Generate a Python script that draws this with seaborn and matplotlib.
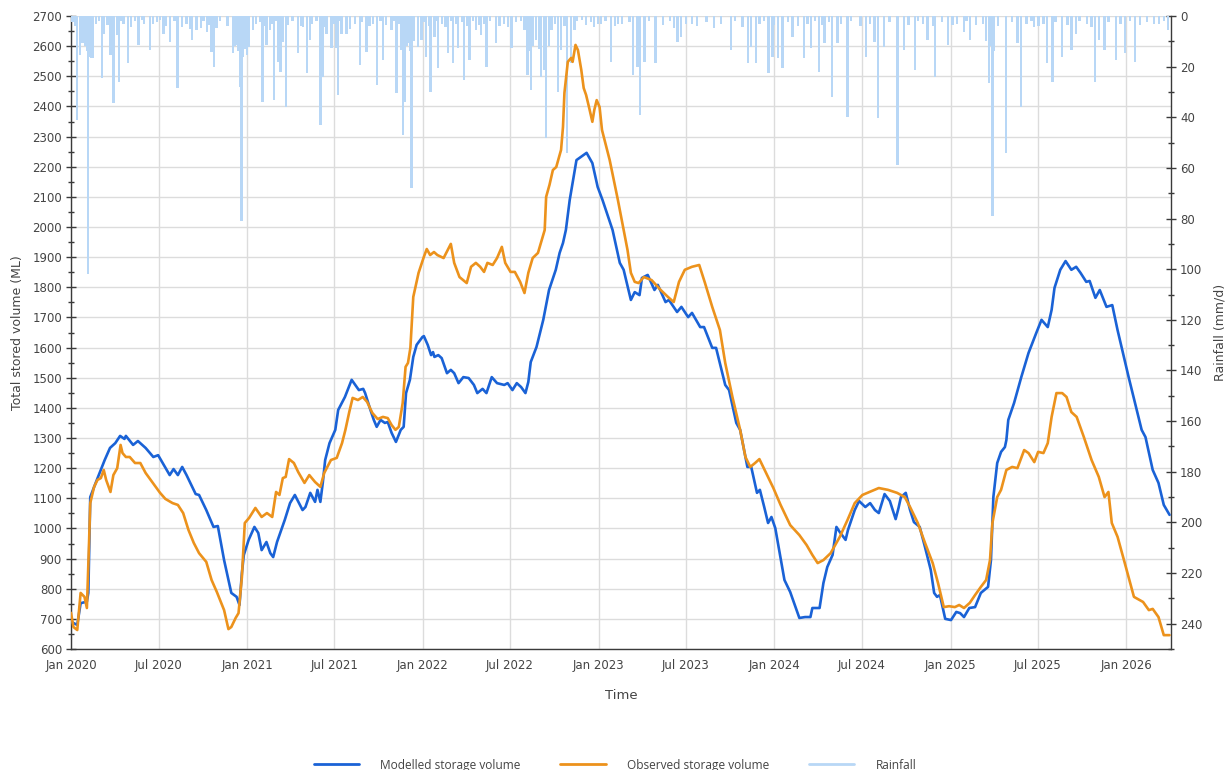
import numpy as np
import pandas as pd
import matplotlib
matplotlib.use("Agg")
import matplotlib.pyplot as plt
import matplotlib.dates as mdates
from matplotlib.ticker import MultipleLocator
from matplotlib.lines import Line2D
import seaborn as sns

# ---- data: (days since 2020-01-01, value) ----
modelled = [
    (0, 690), (13, 680), (20, 752), (33, 757), (36, 786), (40, 1104), (51, 1150), (70, 1227),
    (81, 1267), (92, 1283), (102, 1307), (111, 1297), (114, 1307), (129, 1277), (139, 1290),
    (155, 1267), (171, 1237), (181, 1243), (199, 1194), (205, 1177), (213, 1197), (222, 1177),
    (231, 1204), (240, 1177), (259, 1114), (266, 1111), (281, 1061), (296, 1005), (305, 1008),
    (318, 895), (333, 786), (344, 773), (350, 746), (355, 852), (359, 912), (369, 962),
    (381, 1005), (389, 985), (396, 928), (406, 955), (414, 918), (420, 905), (428, 955),
    (444, 1028), (455, 1084), (465, 1111), (481, 1061), (487, 1071), (497, 1118), (507, 1088),
    (512, 1128), (518, 1088), (523, 1151), (528, 1227), (537, 1283), (549, 1327), (555, 1393),
    (569, 1436), (583, 1493), (598, 1459), (607, 1463), (611, 1449), (622, 1393), (629, 1360),
    (635, 1337), (643, 1360), (652, 1350), (658, 1353), (666, 1317), (675, 1287), (685, 1327),
    (691, 1337), (696, 1449), (704, 1493), (711, 1569), (718, 1609), (730, 1635), (733, 1638),
    (741, 1609), (748, 1575), (752, 1585), (755, 1569), (763, 1575), (770, 1565), (781, 1515),
    (789, 1526), (796, 1515), (805, 1482), (815, 1502), (826, 1499), (837, 1476), (844, 1449),
    (855, 1463), (863, 1449), (874, 1502), (885, 1482), (900, 1476), (907, 1482), (917, 1459),
    (926, 1482), (935, 1469), (944, 1449), (950, 1486), (955, 1552), (967, 1602), (981, 1692),
    (993, 1791), (1007, 1858), (1015, 1914), (1022, 1947), (1028, 1990), (1036, 2090),
    (1050, 2222), (1071, 2246), (1083, 2212), (1094, 2133), (1104, 2090), (1125, 1990),
    (1140, 1881), (1148, 1858), (1163, 1758), (1171, 1784), (1181, 1774), (1186, 1831),
    (1198, 1841), (1212, 1791), (1219, 1808), (1235, 1751), (1242, 1758), (1259, 1718),
    (1268, 1735), (1282, 1701), (1290, 1715), (1307, 1668), (1315, 1668), (1332, 1599),
    (1340, 1599), (1359, 1476), (1367, 1459), (1382, 1350), (1390, 1327), (1405, 1204),
    (1413, 1204), (1425, 1118), (1431, 1128), (1440, 1071), (1448, 1018), (1455, 1038),
    (1463, 1001), (1482, 829), (1494, 789), (1513, 703), (1525, 706), (1536, 706), (1540, 736),
    (1555, 736), (1563, 819), (1571, 872), (1582, 912), (1590, 1005), (1597, 988), (1609, 962),
    (1614, 995), (1628, 1061), (1637, 1091), (1650, 1071), (1660, 1084), (1670, 1061),
    (1678, 1051), (1690, 1114), (1701, 1091), (1713, 1031), (1719, 1068), (1724, 1104),
    (1734, 1118), (1743, 1061), (1751, 1021), (1763, 1005), (1774, 938), (1786, 862),
    (1793, 786), (1799, 773), (1805, 779), (1816, 700), (1828, 696), (1839, 723), (1847, 719),
    (1855, 706), (1866, 736), (1878, 739), (1890, 786), (1905, 806), (1911, 895), (1916, 1104),
    (1924, 1217), (1932, 1254), (1940, 1270), (1943, 1293), (1947, 1360), (1959, 1416),
    (1974, 1502), (1989, 1582), (2005, 1648), (2016, 1692), (2029, 1668), (2037, 1725),
    (2043, 1798), (2055, 1858), (2066, 1887), (2078, 1858), (2088, 1868), (2097, 1848),
    (2109, 1818), (2116, 1821), (2128, 1765), (2137, 1791), (2151, 1735), (2163, 1741),
    (2174, 1658), (2197, 1502), (2224, 1327), (2232, 1303), (2247, 1194), (2259, 1151),
    (2270, 1078), (2282, 1045),
]

observed = [
    (0, 720), (5, 673), (13, 663), (20, 786), (28, 773), (33, 736), (37, 928), (40, 1084),
    (48, 1138), (55, 1161), (62, 1167), (68, 1194), (73, 1161), (82, 1121), (88, 1177),
    (96, 1200), (103, 1277), (107, 1250), (114, 1237), (122, 1237), (133, 1217), (144, 1217),
    (155, 1184), (170, 1151), (185, 1118), (196, 1098), (211, 1084), (222, 1078), (233, 1051),
    (244, 995), (255, 952), (266, 918), (281, 889), (292, 829), (303, 789), (318, 729),
    (327, 666), (333, 673), (342, 703), (348, 719), (355, 839), (361, 1018), (370, 1035),
    (383, 1068), (396, 1038), (407, 1051), (418, 1038), (426, 1121), (433, 1111), (440, 1167),
    (446, 1171), (453, 1230), (463, 1217), (472, 1187), (485, 1151), (495, 1177), (507, 1154),
    (518, 1138), (526, 1184), (540, 1227), (552, 1234), (563, 1283), (570, 1327), (578, 1386),
    (585, 1433), (596, 1426), (606, 1436), (615, 1420), (626, 1383), (637, 1363), (648, 1370),
    (658, 1366), (666, 1343), (674, 1327), (681, 1337), (689, 1416), (695, 1536), (700, 1549),
    (705, 1599), (711, 1768), (722, 1848), (733, 1901), (739, 1927), (746, 1907), (754, 1917),
    (761, 1907), (774, 1897), (789, 1944), (796, 1881), (807, 1834), (822, 1814), (831, 1868),
    (841, 1881), (850, 1868), (858, 1851), (865, 1881), (876, 1874), (885, 1897), (895, 1934),
    (902, 1881), (913, 1851), (922, 1851), (933, 1818), (942, 1781), (950, 1848), (959, 1897),
    (970, 1914), (984, 1990), (987, 2100), (994, 2140), (1001, 2189), (1008, 2199),
    (1018, 2256), (1022, 2332), (1025, 2445), (1032, 2548), (1039, 2561), (1042, 2548),
    (1048, 2604), (1053, 2587), (1060, 2521), (1065, 2461), (1070, 2438), (1076, 2398),
    (1083, 2349), (1087, 2388), (1092, 2421), (1098, 2398), (1103, 2322), (1119, 2222),
    (1136, 2090), (1148, 1990), (1156, 1924), (1163, 1848), (1171, 1818), (1179, 1814),
    (1190, 1834), (1206, 1824), (1225, 1791), (1240, 1768), (1252, 1751), (1263, 1818),
    (1275, 1858), (1290, 1868), (1305, 1874), (1317, 1814), (1332, 1735), (1348, 1658),
    (1359, 1549), (1374, 1436), (1390, 1327), (1401, 1237), (1411, 1204), (1421, 1217),
    (1430, 1230), (1444, 1184), (1459, 1134), (1474, 1078), (1494, 1011), (1513, 978),
    (1528, 945), (1540, 912), (1551, 885), (1563, 895), (1578, 918), (1597, 972), (1613, 1028),
    (1628, 1084), (1644, 1111), (1659, 1121), (1678, 1134), (1697, 1128), (1716, 1118),
    (1732, 1104), (1743, 1071), (1759, 1018), (1774, 952), (1790, 885), (1801, 819),
    (1813, 739), (1824, 742), (1836, 739), (1845, 746), (1855, 736), (1867, 753), (1878, 779),
    (1890, 806), (1901, 829), (1909, 895), (1914, 1018), (1924, 1104), (1932, 1128),
    (1943, 1194), (1955, 1204), (1966, 1200), (1980, 1260), (1989, 1250), (2001, 1220),
    (2009, 1254), (2020, 1250), (2029, 1283), (2037, 1370), (2047, 1449), (2059, 1449),
    (2068, 1436), (2078, 1386), (2089, 1370), (2104, 1303), (2120, 1227), (2135, 1171),
    (2147, 1104), (2155, 1121), (2162, 1018), (2174, 972), (2189, 885), (2208, 773),
    (2227, 756), (2239, 729), (2247, 733), (2259, 706), (2270, 646), (2282, 646),
]

rainfall = [
    (13, 41), (19, 15.4), (24, 10.8), (30, 12), (33, 14), (36, 102), (38, 16), (41, 16.7),
    (44, 15), (46, 16.7), (52, 3), (64, 24.6), (69, 7), (82, 15.4), (88, 34.5), (95, 7.5),
    (100, 26), (109, 3), (119, 18.7), (140, 11.5), (147, 1.6), (164, 13.4), (171, 3),
    (185, 1.6), (192, 7), (205, 10.1), (221, 28.6), (230, 4.2), (252, 9.5), (261, 5.5),
    (270, 4.9), (282, 6.2), (292, 14.1), (297, 20), (302, 4.9), (337, 14.8), (340, 12),
    (344, 11.5), (348, 14), (352, 27.9), (354, 81), (358, 16), (362, 13), (365, 15.4),
    (370, 12.1), (378, 5.5), (398, 33.9), (406, 11.5), (413, 5.5), (421, 33.2), (430, 18),
    (435, 22), (441, 10.1), (446, 35.8), (472, 14.8), (482, 4.2), (490, 22.7), (496, 9.5),
    (518, 43), (524, 24), (531, 7), (541, 12.8), (551, 12.8), (555, 31.2), (562, 7), (572, 7),
    (600, 19.4), (614, 14.1), (636, 27.3), (648, 17.4), (666, 5.5), (676, 30.6), (685, 13.4),
    (690, 47), (693, 33.9), (697, 12), (700, 10.8), (704, 14), (707, 68), (712, 10),
    (721, 12.1), (728, 9.5), (738, 16), (747, 29.9), (755, 8.2), (762, 20.7), (783, 14.8),
    (793, 18.7), (804, 12.8), (816, 25.3), (828, 17.4), (842, 5.5), (852, 7.5), (863, 20),
    (883, 10.8), (908, 4.2), (915, 12.8), (942, 5.5), (948, 23.3), (952, 14), (955, 29.3),
    (960, 12), (966, 9.5), (972, 13), (977, 24), (982, 21.3), (987, 48), (993, 12), (998, 5.5),
    (1011, 29.9), (1018, 13.4), (1031, 54), (1039, 18.7), (1046, 5.5), (1061, 1.6),
    (1087, 4.2), (1101, 3), (1122, 18), (1136, 3), (1167, 23.3), (1177, 20), (1182, 39),
    (1191, 18), (1214, 18.7), (1253, 4.9), (1260, 10.1), (1267, 8.2), (1278, 3), (1336, 4.9),
    (1371, 13.4), (1406, 18.7), (1413, 12.1), (1423, 18.7), (1449, 22.7), (1457, 16),
    (1468, 16.7), (1478, 20.7), (1499, 8.2), (1523, 16.7), (1537, 12.8), (1554, 22),
    (1565, 10.8), (1581, 31.9), (1592, 10.8), (1613, 39.8), (1651, 16), (1669, 10.1),
    (1677, 40.4), (1689, 12.1), (1717, 59), (1731, 13.4), (1753, 21.3), (1779, 9.5),
    (1795, 24), (1822, 11.5), (1831, 3.6), (1855, 6.2), (1868, 9.5), (1895, 3), (1900, 10),
    (1907, 26.6), (1910, 12), (1914, 79), (1918, 14), (1942, 54), (1966, 10.8), (1973, 35.8),
    (2001, 4.2), (2028, 18.7), (2039, 26), (2059, 16), (2078, 13.4), (2087, 7), (2127, 26),
    (2135, 9.5), (2147, 13.4), (2171, 17.4), (2189, 14.8), (2210, 18), (2260, 3), (2279, 5.5),
    # light falls
    (3, 2.5), (8, 4), (27, 3), (58, 2), (76, 3.5), (105, 2), (125, 4.5), (133, 2), (152, 3),
    (178, 2.5), (198, 4), (215, 2), (240, 3), (248, 5), (275, 2), (288, 3.5), (310, 2),
    (325, 4), (385, 3), (392, 2.5), (402, 4), (418, 3), (425, 2), (450, 3.5), (460, 2),
    (478, 4), (500, 3), (510, 2), (527, 4.5), (545, 3), (558, 2), (580, 5), (590, 3),
    (605, 2.5), (620, 4), (628, 3), (643, 2), (655, 3.5), (670, 2), (680, 3), (733, 2.5),
    (743, 4), (758, 2), (770, 3), (778, 4.5), (790, 2), (800, 3), (812, 2.5), (822, 4),
    (835, 2), (848, 3.5), (858, 3), (870, 2), (890, 4), (900, 3), (925, 2.5), (935, 2),
    (1005, 3), (1025, 4), (1050, 2), (1070, 3.5), (1080, 2.5), (1095, 3), (1110, 2),
    (1130, 4), (1145, 3), (1160, 2.5), (1200, 2), (1230, 3.5), (1245, 2), (1290, 3),
    (1300, 4), (1320, 2.5), (1350, 3), (1380, 2), (1395, 4.5), (1430, 3), (1440, 2),
    (1460, 3.5), (1490, 2.5), (1510, 4), (1530, 3), (1545, 2), (1560, 3.5), (1575, 2.5),
    (1600, 3), (1620, 2), (1640, 4), (1660, 3), (1700, 2.5), (1740, 3.5), (1760, 2),
    (1770, 3), (1790, 4), (1810, 2.5), (1840, 3), (1860, 2), (1880, 3.5), (1925, 4),
    (1955, 2.5), (1985, 3), (1995, 2), (2010, 4), (2020, 3), (2045, 2.5), (2070, 3.5),
    (2095, 2), (2110, 3), (2120, 4.5), (2155, 2.5), (2180, 3), (2200, 2), (2220, 3.5),
    (2235, 2.5), (2250, 3), (2270, 2),
]

start = pd.Timestamp("2020-01-01")


def to_frame(pairs, col):
    day, val = zip(*pairs)
    return pd.DataFrame({"date": start + pd.to_timedelta(list(day), unit="D"), col: list(val)})


model = to_frame(modelled, "ml")
obs = to_frame(observed, "ml")
rain = to_frame(rainfall, "mm")

BLUE = "#1a62d6"
ORANGE = "#ec921c"
RAIN = "#b8d7f6"
GRID = "#dcdcdc"
SPINE = "#3a3a3a"
TXT = "#444444"

sns.set_style("white")
plt.rcParams["font.family"] = ["DejaVu Sans"]

fig = plt.figure(figsize=(12.3, 7.7), dpi=100)
rect = [71 / 1230, 1 - 649 / 770, 1100 / 1230, 633 / 770]
ax = fig.add_axes(rect)
ax_rain = ax.twinx()
ax_line = fig.add_axes(rect, sharex=ax, sharey=ax)

ax.set_zorder(1)
ax_rain.set_zorder(2)
ax_line.set_zorder(3)
ax_rain.patch.set_visible(False)
ax_line.patch.set_visible(False)

# rainfall hanging from the top
ax_rain.bar(rain["date"], rain["mm"], width=4.8, color=RAIN, edgecolor="none", align="center")
ax_rain.set_ylim(250, 0)

# storage volumes
sns.lineplot(data=model, x="date", y="ml", ax=ax_line, color=BLUE, lw=1.9, sort=False, errorbar=None)
sns.lineplot(data=obs, x="date", y="ml", ax=ax_line, color=ORANGE, lw=1.9, sort=False, errorbar=None)
ax_line.axis("off")

ax.set_xlim(start, start + pd.Timedelta(days=2285))
ax.set_ylim(600, 2700)

ax.xaxis.set_major_locator(mdates.MonthLocator(bymonth=[1, 7]))
ax.xaxis.set_major_formatter(mdates.DateFormatter("%b %Y"))
ax.yaxis.set_major_locator(MultipleLocator(100))
ax.yaxis.set_minor_locator(MultipleLocator(50))
ax_rain.set_yticks(np.arange(0, 241, 20))
ax_rain.yaxis.set_minor_locator(MultipleLocator(10))

ax.grid(True, which="major", color=GRID, lw=1)
ax.set_axisbelow(True)

for a in (ax, ax_rain):
    for s in a.spines.values():
        s.set_color(SPINE)
        s.set_linewidth(1.0)
    a.spines["top"].set_visible(False)
ax.spines["right"].set_visible(False)
ax_rain.spines["left"].set_visible(False)
ax_rain.spines["bottom"].set_visible(False)

ax.tick_params(axis="both", which="major", direction="inout", length=7, width=1,
               color=SPINE, labelcolor=TXT, labelsize=8.5)
ax.tick_params(axis="y", which="minor", direction="inout", length=5, width=1, color=SPINE)
ax.tick_params(axis="x", pad=4)
ax.tick_params(axis="y", pad=3)
ax_rain.tick_params(axis="y", which="major", direction="inout", length=7, width=1,
                    color=SPINE, labelcolor=TXT, labelsize=8.5, pad=3)
ax_rain.tick_params(axis="y", which="minor", direction="inout", length=5, width=1, color=SPINE)

ax.set_xlabel("Time", fontsize=9.5, color=TXT, labelpad=12)
ax.set_ylabel("Total stored volume (ML)", fontsize=9, color=TXT, labelpad=6)
ax_rain.set_ylabel("Rainfall (mm/d)", fontsize=9, color=TXT, labelpad=8)

handles = [Line2D([], [], color=BLUE, lw=2),
           Line2D([], [], color=ORANGE, lw=2),
           Line2D([], [], color=RAIN, lw=2)]
leg = fig.legend(handles, ["Modelled storage volume", "Observed storage volume", "Rainfall"],
                 loc="lower center", bbox_to_anchor=(0.5, -0.016), ncol=3, frameon=False,
                 handlelength=3.8, handletextpad=1.8, columnspacing=3.3,
                 prop={"family": "Open Sans", "size": 8.6})
for t in leg.get_texts():
    t.set_color(TXT)

fig.savefig("out.png", dpi=100, facecolor="white")
